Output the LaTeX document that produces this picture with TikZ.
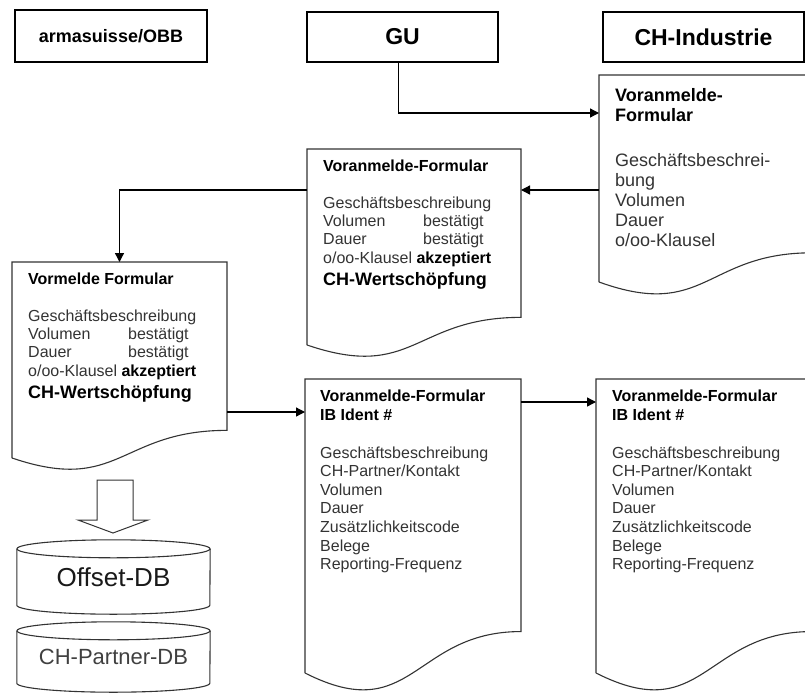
\documentclass[tikz,border=0pt]{standalone}
\usepackage{fontspec}
\setmainfont{Liberation Sans}
\usetikzlibrary{positioning,calc,arrows.meta}

\newcommand{\formhead}[1]{\textcolor{black}{\bfseries #1}}
\newcommand{\tabto}[1]{\makebox[100pt][l]{#1}}

\begin{document}
\begin{tikzpicture}[x=1pt,y=-1pt,
  >={Triangle[length=9pt,width=9pt]},
  hdbox/.style={draw,line width=1.3pt,minimum width=#1,minimum height=50pt,
    font=\fontsize{23}{26}\selectfont\bfseries},
  docbox/.style 2 args={anchor=north west,inner sep=0pt,outer sep=0pt,
    minimum width=#1,minimum height=#2},
  doctext/.style={inner sep=0pt,align=left,text=black!80,
    font=\fontsize{16}{18.4}\selectfont},
  docline/.style={draw=black!80,line width=1.1pt},
  flow/.style={->,line width=1.3pt}]

 \clip (0,0) rectangle (805,693);

 % header row
 \node[hdbox=192pt,minimum height=52pt,font=\fontsize{18}{20}\selectfont\bfseries]
   (armasuisse) at (111,36) {armasuisse/OBB};
 \node[hdbox=191pt] (gu) at (402.5,37) {GU};
 \node[hdbox=201pt] (chind) at (703.5,37) {CH-Industrie};

 \node[docbox={213pt}{207pt}] (vaA) at (599,75) {};
 \node[docbox={214pt}{196pt}] (vaB) at (307,149) {};
 \node[docbox={215pt}{196pt}] (vmC) at (12,262) {};
 \node[docbox={216pt}{294pt}] (ibD) at (305,379) {};
 \node[docbox={216pt}{294pt}] (ibE) at (596,379) {};

 \foreach \d in {vaA,vaB,vmC,ibD,ibE}
   \draw[docline] (\d.south west) -- (\d.north west) -- (\d.north east)
     -- ($(\d.north east)!0.859!(\d.south east)$)
     .. controls ($(\d.north)!0.859!(\d.south)$) and ($(\d.north)!1.186!(\d.south)$)
     .. (\d.south west);

 \node[doctext,below right=13.5pt and 16pt of vaA.north west,
   font=\fontsize{18}{20}\selectfont] (vaAtxt)
   {\formhead{Voranmelde-}\\ \formhead{Formular}\\[25pt]
    Geschäftsbeschrei-\\bung\\Volumen\\Dauer\\o/oo-Klausel};
 \node[doctext,below right=11pt and 16pt of vaB.north west] (vaBtxt)
   {\formhead{Voranmelde-Formular}\\[18pt]
    Geschäftsbeschreibung\\ \tabto{Volumen}bestätigt\\ \tabto{Dauer}bestätigt\\
    o/oo-Klausel \formhead{akzeptiert}\\[4pt]
    {\fontsize{18}{20}\selectfont\formhead{CH-Wertschöpfung}}};
 \node[doctext,below right=11pt and 16pt of vmC.north west] (vmCtxt)
   {\formhead{Vormelde Formular}\\[18pt]
    Geschäftsbeschreibung\\ \tabto{Volumen}bestätigt\\ \tabto{Dauer}bestätigt\\
    o/oo-Klausel \formhead{akzeptiert}\\[4pt]
    {\fontsize{18}{20}\selectfont\formhead{CH-Wertschöpfung}}};
 \node[doctext,below right=11pt and 15pt of ibD.north west,
   font=\fontsize{16}{18.6}\selectfont] (ibDtxt)
   {\formhead{Voranmelde-Formular}\\ \formhead{IB Ident \#}\\[19pt]
    Geschäftsbeschreibung\\CH-Partner/Kontakt\\Volumen\\Dauer\\
    Zusätzlichkeitscode\\Belege\\Reporting-Frequenz};
 \node[doctext,below right=11pt and 16pt of ibE.north west,
   font=\fontsize{16}{18.6}\selectfont] (ibEtxt)
   {\formhead{Voranmelde-Formular}\\ \formhead{IB Ident \#}\\[19pt]
    Geschäftsbeschreibung\\CH-Partner/Kontakt\\Volumen\\Dauer\\
    Zusätzlichkeitscode\\Belege\\Reporting-Frequenz};

 \draw[flow] ([xshift=-4pt]gu.south) |- ([yshift=-38pt]vaA.north west);
 \coordinate (ab) at ([yshift=-115pt]vaA.north west);
 \draw[flow] (ab) -- (ab -| vaB.east);
 \draw[flow] ([yshift=-41pt]vaB.north west) -| (vmC.north);
 \coordinate (cd) at ([yshift=-150pt]vmC.north east);
 \draw[flow] (cd) -- (cd -| ibD.west);
 \coordinate (de) at ([yshift=-23pt]ibD.north east);
 \draw[flow] (de) -- (de -| ibE.west);

 \draw[docline,line width=1pt] (97,480) -- (133,480) -- (133,520) -- (148,520)
   -- (113,533) -- (78,520) -- (97,520) -- cycle;

 \node[minimum width=193pt,minimum height=56pt,text=black!90,
   font=\fontsize{26}{28}\selectfont] (offsetdb) at (113.5,577) {Offset-DB};
 \node[minimum width=193pt,minimum height=52pt,text=black!75,
   font=\fontsize{22}{24}\selectfont] (partnerdb) at (113.5,657) {CH-Partner-DB};
 \foreach \c in {offsetdb,partnerdb} {
   \draw[docline] (\c.north) ellipse [x radius=96.5pt,y radius=9pt];
   \draw[docline] (\c.north west) -- (\c.south west)
     arc [start angle=180,end angle=360,x radius=96.5pt,y radius=9pt] -- (\c.north east);
 }
\end{tikzpicture}
\end{document}
